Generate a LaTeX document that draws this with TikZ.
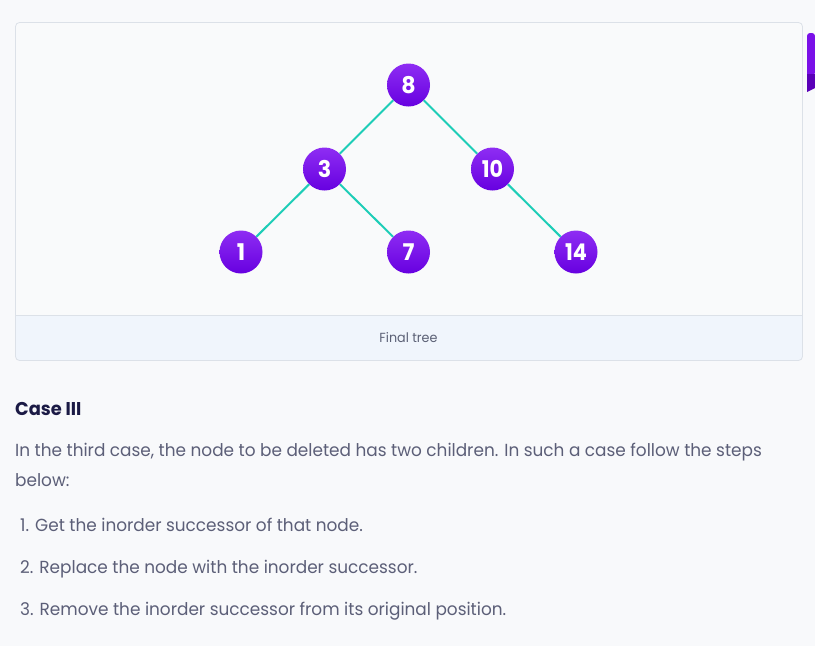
\documentclass[tikz,border=0pt]{standalone}
\usepackage{fontspec}
\setmainfont{Poppins}
\definecolor{bg}{HTML}{F8F9FB}
\definecolor{cardfill}{HTML}{F9FAFB}
\definecolor{cardline}{HTML}{DCE1E8}
\definecolor{capfill}{HTML}{F0F5FC}
\definecolor{captext}{HTML}{5B6075}
\definecolor{edgec}{HTML}{1ECDB7}
\definecolor{ntop}{HTML}{8E2DF3}
\definecolor{nbot}{HTML}{6700E0}
\definecolor{headc}{HTML}{1B1A45}
\definecolor{bodyc}{HTML}{5C5F78}
\definecolor{tabtop}{HTML}{7A10E8}
\definecolor{tabbot}{HTML}{5A00B8}
\tikzset{
  treenode/.style={circle, minimum size=43pt, inner sep=0pt, top color=ntop, bottom color=nbot, draw=none, text=white, font=\fontsize{23}{23}\selectfont\bfseries},
  treeedge/.style={draw=edgec, line width=2pt},
  bodytext/.style={anchor=base west, inner sep=0pt, text=bodyc, font=\fontsize{17.5}{17.5}\selectfont},
}
\newcommand{\sq}[1]{\scalebox{0.965}[1]{#1}}
\begin{document}
\begin{tikzpicture}[x=1pt,y=-1pt]
\useasboundingbox (0,0) rectangle (815,646);
\fill[bg] (0,0) rectangle (815,646);
% card
\fill[cardfill, rounded corners=4pt] (15.5,22.5) rectangle (802.5,360.5);
\fill[capfill, rounded corners=4pt] (15.5,315.5) rectangle (802.5,360.5);
\fill[capfill] (15.5,315.5) rectangle (802.5,330);
\draw[cardline, line width=0.8pt] (15.5,315.5) -- (802.5,315.5);
\draw[cardline, line width=0.8pt, rounded corners=4pt] (15.5,22.5) rectangle (802.5,360.5);
% purple tab at right edge
\fill[tabtop, rounded corners=3pt] (807,92) -- (807,33) -- (815,33) -- (815,74) -- cycle;
\fill[tabbot] (807,74) -- (815,74) -- (815,88) -- (807,92) -- cycle;
% tree
\node[treenode] (n8) at (408.5,85) {\sq{8}};
\node[treenode] (n3) at (324.5,169) {\sq{3}};
\node[treenode] (n10) at (492.5,169) {\scalebox{0.9}[1]{10}};
\node[treenode] (n1) at (241,252) {\sq{1}};
\node[treenode] (n7) at (408.5,252) {\sq{7}};
\node[treenode] (n14) at (576,252) {\scalebox{0.9}[1]{14}};
\draw[treeedge] (n8) -- (n3);
\draw[treeedge] (n8) -- (n10);
\draw[treeedge] (n3) -- (n1);
\draw[treeedge] (n3) -- (n7);
\draw[treeedge] (n10) -- (n14);
\node[text=captext, font=\fontsize{13.2}{13.2}\selectfont, inner sep=0pt] (cap) at (408.5,337.5) {\sq{Final tree}};
% text
\node[anchor=base west, inner sep=0pt, text=headc, font=\fontsize{18.5}{18.5}\selectfont\bfseries] (head) at (15,415) {\sq{Case III}};
\node[bodytext] (p1) at (15,456) {\sq{In the third case, the node to be deleted has two children. In such a case follow the steps}};
\node[bodytext] (p2) at (15,486) {\sq{below:}};
\node[bodytext] (l1) at (20,531) {\sq{1. Get the inorder successor of that node.}};
\node[bodytext] (l2) at (20,573) {\sq{2. Replace the node with the inorder successor.}};
\node[bodytext] (l3) at (20,615) {\sq{3. Remove the inorder successor from its original position.}};
\end{tikzpicture}
\end{document}
